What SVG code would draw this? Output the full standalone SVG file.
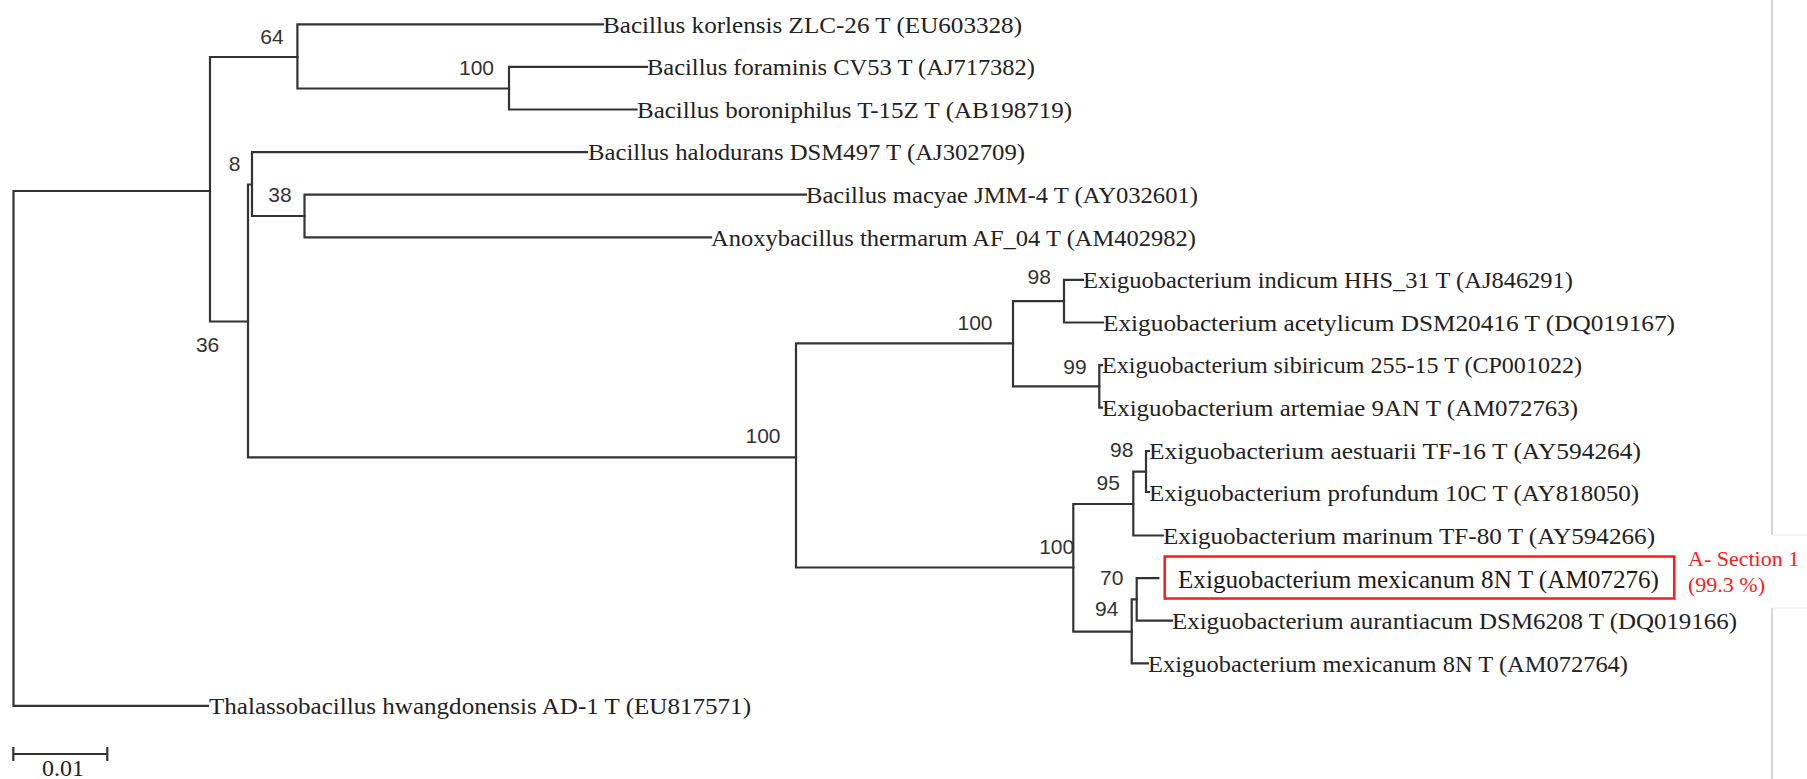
<svg xmlns="http://www.w3.org/2000/svg" width="1807" height="779" viewBox="0 0 1807 779">
<style>
.br{fill:none;stroke:#333333;stroke-width:2.2;stroke-linejoin:miter;stroke-linecap:square}
.tip{font-family:"Liberation Serif",serif;font-size:24px;fill:#222222}
.bs{font-family:"Liberation Sans",Arial,sans-serif;font-size:21px;fill:#333333;text-anchor:middle}
.red{font-family:"Liberation Serif",serif;font-size:22px;fill:#ff1a1a}
.box{font-family:"Liberation Serif",serif;font-size:25px;fill:#1a1a1a}
</style>
<rect x="0" y="0" width="1807" height="779" fill="#ffffff"/>
<g id="page-edge">
<line x1="1772" y1="0" x2="1772" y2="535" stroke="#c8c8c8" stroke-width="1.5"/>
<line x1="1772" y1="608" x2="1772" y2="779" stroke="#c8c8c8" stroke-width="1.5"/>
<line x1="1772" y1="535" x2="1807" y2="535" stroke="#ececec" stroke-width="1"/>
<line x1="1772" y1="608" x2="1807" y2="608" stroke="#ececec" stroke-width="1"/>
</g>
<g id="connectors">
<path class="br" d="M210 191 H13.5 V705.9 H208"/>
<path class="br" d="M297.4 57 H210 V321.5 H248"/>
<path class="br" d="M603 24.3 H297.4 V88.5 H509"/>
<path class="br" d="M647 66.9 H509 V109.5 H636.5"/>
<path class="br" d="M252 184.5 H248 V457.3 H796"/>
<path class="br" d="M587 152.1 H252 V216 H304.5"/>
<path class="br" d="M806 194.7 H304.5 V237.3 H711"/>
<path class="br" d="M1013 343.3 H796 V567.5 H1073.3"/>
<path class="br" d="M1064 301.2 H1013 V386.4 H1099.3"/>
<path class="br" d="M1083 279.9 H1064 V322.5 H1103"/>
<path class="br" d="M1102 365.1 H1099.3 V407.7 H1102"/>
<path class="br" d="M1133.3 504 H1073.3 V631.7 H1131.7"/>
<path class="br" d="M1146 471.6 H1133.3 V535.5 H1163"/>
<path class="br" d="M1149 451 H1146 V492 H1149"/>
<path class="br" d="M1136.7 599.4 H1131.7 V663.3 H1148"/>
<path class="br" d="M1158.3 578.1 H1136.7 V620.7 H1172"/>
</g>
<g id="bootstrap">
<text class="bs" x="272" y="43.5">64</text>
<text class="bs" x="476.5" y="74.5">100</text>
<text class="bs" x="234.5" y="171">8</text>
<text class="bs" x="280" y="202">38</text>
<text class="bs" x="207.6" y="351.5">36</text>
<text class="bs" x="763" y="442.5">100</text>
<text class="bs" x="975" y="329.5">100</text>
<text class="bs" x="1039.3" y="283.5">98</text>
<text class="bs" x="1075" y="374">99</text>
<text class="bs" x="1121.7" y="457">98</text>
<text class="bs" x="1108.3" y="489.5">95</text>
<text class="bs" x="1056.7" y="553.5">100</text>
<text class="bs" x="1111.7" y="584.5">70</text>
<text class="bs" x="1106.7" y="616">94</text>
</g>
<g id="taxon-korlensis"><text class="tip" x="603" y="32.5" textLength="419" lengthAdjust="spacingAndGlyphs">Bacillus korlensis ZLC-26 T (EU603328)</text></g>
<g id="taxon-foraminis"><text class="tip" x="647" y="75.1" textLength="388" lengthAdjust="spacingAndGlyphs">Bacillus foraminis CV53 T (AJ717382)</text></g>
<g id="taxon-boroniphilus"><text class="tip" x="637" y="117.7" textLength="435" lengthAdjust="spacingAndGlyphs">Bacillus boroniphilus T-15Z T (AB198719)</text></g>
<g id="taxon-halodurans"><text class="tip" x="588" y="160.3" textLength="437" lengthAdjust="spacingAndGlyphs">Bacillus halodurans DSM497 T (AJ302709)</text></g>
<g id="taxon-macyae"><text class="tip" x="806" y="202.9" textLength="392" lengthAdjust="spacingAndGlyphs">Bacillus macyae JMM-4 T (AY032601)</text></g>
<g id="taxon-thermarum"><text class="tip" x="711" y="245.5" textLength="485" lengthAdjust="spacingAndGlyphs">Anoxybacillus thermarum AF_04 T (AM402982)</text></g>
<g id="taxon-indicum"><text class="tip" x="1083" y="288.1" textLength="490" lengthAdjust="spacingAndGlyphs">Exiguobacterium indicum HHS_31 T (AJ846291)</text></g>
<g id="taxon-acetylicum"><text class="tip" x="1103" y="330.7" textLength="572" lengthAdjust="spacingAndGlyphs">Exiguobacterium acetylicum DSM20416 T (DQ019167)</text></g>
<g id="taxon-sibiricum"><text class="tip" x="1102" y="373.3" textLength="480" lengthAdjust="spacingAndGlyphs">Exiguobacterium sibiricum 255-15 T (CP001022)</text></g>
<g id="taxon-artemiae"><text class="tip" x="1102" y="415.9" textLength="476" lengthAdjust="spacingAndGlyphs">Exiguobacterium artemiae 9AN T (AM072763)</text></g>
<g id="taxon-aestuarii"><text class="tip" x="1149" y="458.5" textLength="492" lengthAdjust="spacingAndGlyphs">Exiguobacterium aestuarii TF-16 T (AY594264)</text></g>
<g id="taxon-profundum"><text class="tip" x="1149" y="501.1" textLength="490" lengthAdjust="spacingAndGlyphs">Exiguobacterium profundum 10C T (AY818050)</text></g>
<g id="taxon-marinum"><text class="tip" x="1163" y="543.7" textLength="492" lengthAdjust="spacingAndGlyphs">Exiguobacterium marinum TF-80 T (AY594266)</text></g>
<g id="taxon-mexicanum-section1">
<rect x="1164.7" y="556.5" width="509.5" height="42" fill="#ffffff" stroke="#ff1a1a" stroke-width="2.5"/>
<text class="box" x="1178" y="588.3" textLength="481" lengthAdjust="spacingAndGlyphs">Exiguobacterium mexicanum 8N T (AM07276)</text>
</g>
<g id="taxon-aurantiacum"><text class="tip" x="1172" y="628.9" textLength="565" lengthAdjust="spacingAndGlyphs">Exiguobacterium aurantiacum DSM6208 T (DQ019166)</text></g>
<g id="taxon-mexicanum"><text class="tip" x="1148" y="671.5" textLength="480" lengthAdjust="spacingAndGlyphs">Exiguobacterium mexicanum 8N T (AM072764)</text></g>
<g id="taxon-thalassobacillus"><text class="tip" x="209" y="714.1" textLength="542" lengthAdjust="spacingAndGlyphs">Thalassobacillus hwangdonensis AD-1 T (EU817571)</text></g>
<g id="annotation-section1">
<text class="red" x="1688" y="566">A- Section 1</text>
<text class="red" x="1688" y="592">(99.3 %)</text>
</g>
<g id="scale-bar">
<path class="br" d="M13.3 754 H107.3 M13.3 748 V760 M107.3 748 V760"/>
<text class="tip" x="63" y="776" text-anchor="middle" font-size="21">0.01</text>
</g>
</svg>
